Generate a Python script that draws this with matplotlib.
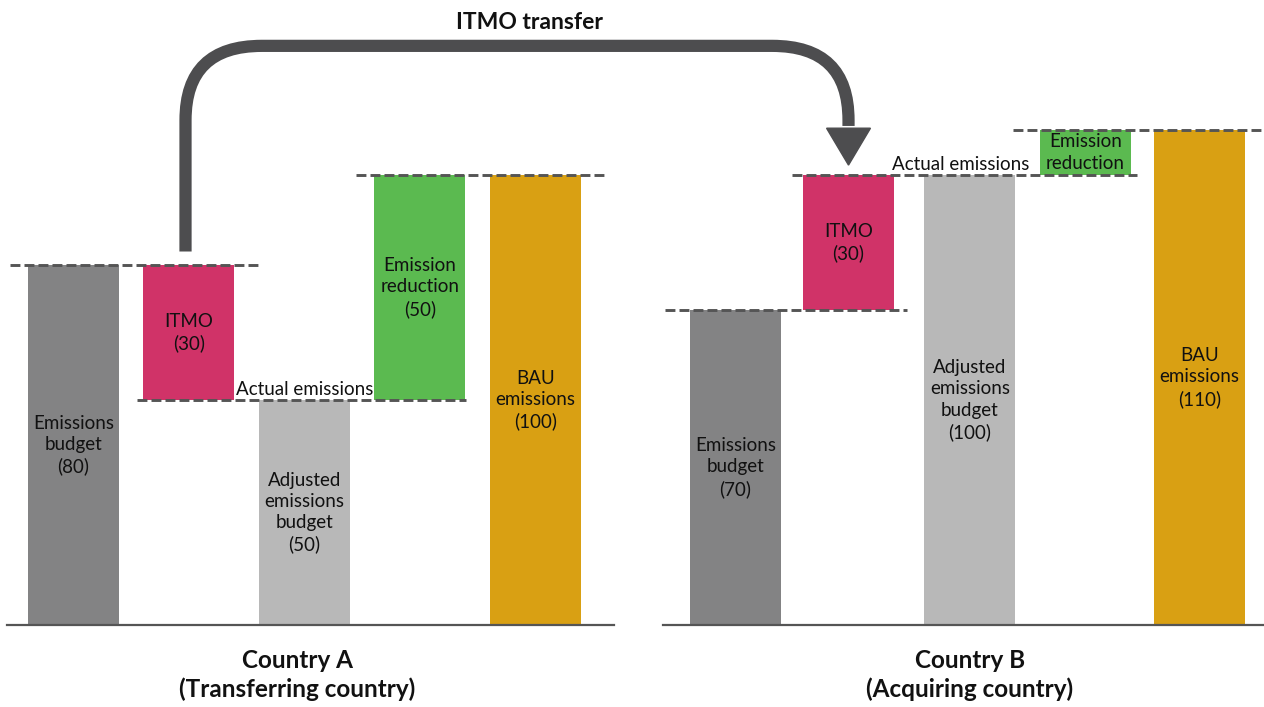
import matplotlib
matplotlib.use("Agg")
import matplotlib.pyplot as plt
from matplotlib.path import Path
from matplotlib.patches import PathPatch, Polygon

# values (emission units)
bar_names = ["Emissions budget", "ITMO", "Adjusted emissions budget", "Emission reduction", "BAU emissions"]
a_bottoms = [0, 50, 0, 50, 0]
a_heights = [80, 30, 50, 50, 100]
b_bottoms = [0, 70, 0, 100, 0]
b_heights = [70, 30, 100, 10, 110]
a_labels = ["Emissions\nbudget\n(80)", "ITMO\n(30)", "Adjusted\nemissions\nbudget\n(50)",
            "Emission\nreduction\n(50)", "BAU\nemissions\n(100)"]
b_labels = ["Emissions\nbudget\n(70)", "ITMO\n(30)", "Adjusted\nemissions\nbudget\n(100)",
            "Emission\nreduction", "BAU\nemissions\n(110)"]
a_actual = 50
b_actual = 100
country_labels = ["Country A\n(Transferring country)", "Country B\n(Acquiring country)"]

colors = ["#838384", "#d03368", "#b8b8b8", "#5bba50", "#d9a013"]
dash_col = "#555555"
arrow_col = "#4d4d4f"
txt_col = "#111111"

plt.rcParams["font.family"] = ["Lato", "DejaVu Sans"]

fig = plt.figure(figsize=(12.64, 7.07), dpi=100)
ax = fig.add_axes([0, 0, 1, 1])
ax.set_xlim(-0.636, 10.307)
ax.set_ylim(-18.22, 138.89)
ax.axis("off")

a_pos = [0, 1, 2, 3, 4]
b_pos = [5.73, 6.71, 7.76, 8.76, 9.75]
w = 0.788

ax.bar(a_pos, a_heights, bottom=a_bottoms, width=w, color=colors, zorder=2)
ax.bar(b_pos, b_heights, bottom=b_bottoms, width=w, color=colors, zorder=2)

for pos, bot, h, lab in zip(a_pos + b_pos, a_bottoms + b_bottoms, a_heights + b_heights, a_labels + b_labels):
    ax.text(pos, bot + h / 2, lab, ha="center", va="center", fontsize=13.5,
            linespacing=1.3, color=txt_col, zorder=4)

# baselines
ax.plot([-0.576, 4.68], [0, 0], color="#555555", lw=1.6, zorder=3)
ax.plot([5.10, 10.31], [0, 0], color="#555555", lw=1.6, zorder=3)

# dashed reference lines
dash_kw = dict(color=dash_col, lw=2.1, dashes=(3.4, 1.4), zorder=3)
ax.plot([a_pos[0] - 0.55, a_pos[1] + 0.6], [a_heights[0]] * 2, **dash_kw)
ax.plot([a_pos[1] - 0.45, a_pos[3] + 0.4], [a_actual] * 2, **dash_kw)
ax.plot([a_pos[3] - 0.55, a_pos[4] + 0.6], [a_heights[4]] * 2, **dash_kw)
ax.plot([b_pos[0] - 0.61, b_pos[1] + 0.51], [b_heights[0]] * 2, **dash_kw)
ax.plot([b_pos[1] - 0.49, b_pos[3] + 0.45], [b_actual] * 2, **dash_kw)
ax.plot([b_pos[3] - 0.63, 10.31], [b_heights[4]] * 2, **dash_kw)

ax.text(2.0, a_actual + 0.5, "Actual emissions", ha="center", va="bottom", fontsize=13.5, color=txt_col, zorder=4)
ax.text(7.68, b_actual + 0.5, "Actual emissions", ha="center", va="bottom", fontsize=13.5, color=txt_col, zorder=4)

# ITMO transfer arrow
x1 = a_pos[1] - 0.03
x2 = b_pos[1]
ytop = 128.7
rx, ry = 0.66, 16.5
head_top = 110.4
verts = [(x1, 83), (x1, ytop - ry), (x1, ytop), (x1 + rx, ytop),
         (x2 - rx, ytop), (x2, ytop), (x2, ytop - ry), (x2, head_top + 0.5)]
codes = [Path.MOVETO, Path.LINETO, Path.CURVE3, Path.CURVE3,
         Path.LINETO, Path.CURVE3, Path.CURVE3, Path.LINETO]
ax.add_patch(PathPatch(Path(verts, codes), fill=False, edgecolor=arrow_col, lw=8.8,
                       capstyle="butt", joinstyle="miter", zorder=5))
ax.add_patch(Polygon([(x2 - 0.19, head_top), (x2 + 0.19, head_top), (x2, 102.2)],
                     closed=True, color=arrow_col, zorder=5))
ax.text(3.95, 133.9, "ITMO transfer", ha="center", va="center", fontsize=16.5,
        fontweight="bold", color=txt_col)

# country labels
ax.text(1.94, -11.1, country_labels[0], ha="center", va="center", fontsize=17.5,
        fontweight="bold", linespacing=1.3, color=txt_col)
ax.text(7.76, -11.1, country_labels[1], ha="center", va="center", fontsize=17.5,
        fontweight="bold", linespacing=1.3, color=txt_col)

fig.savefig("out.png", dpi=100)
